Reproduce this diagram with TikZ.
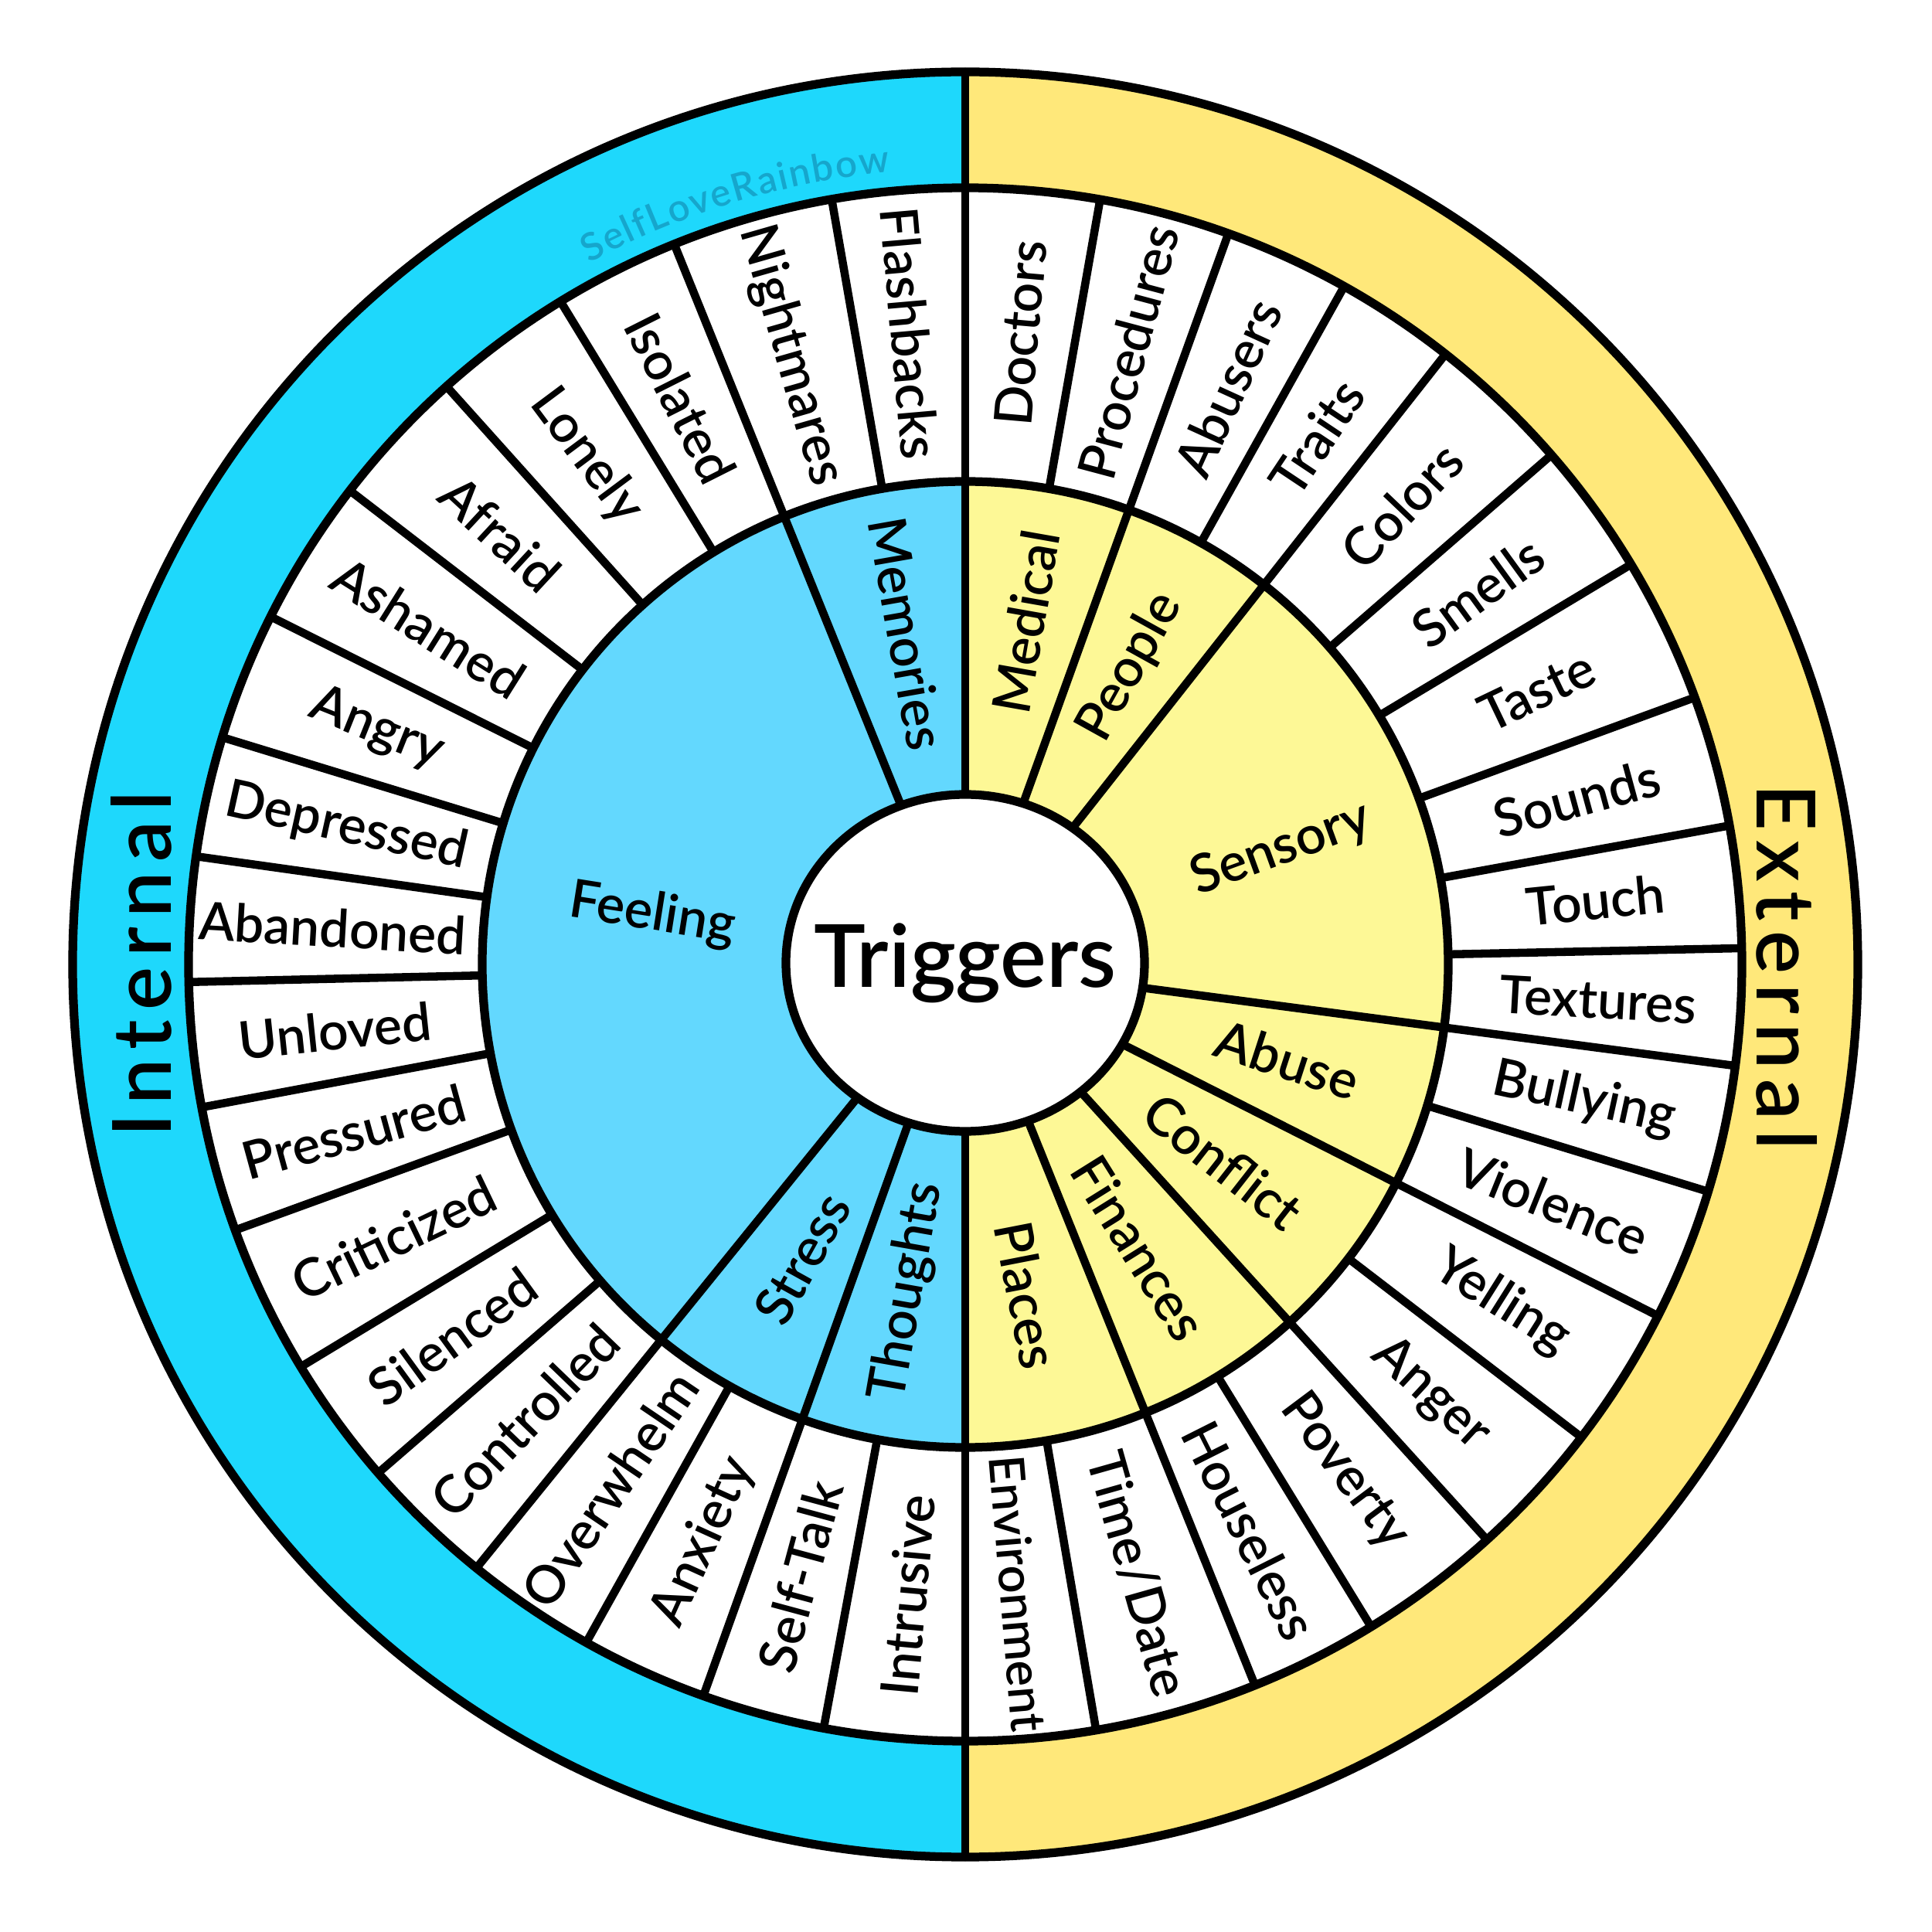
\documentclass[tikz,border=0pt]{standalone}
\usepackage{fontspec}
\setmainfont{Lato}[UprightFont=* Semibold]
\newfontfamily\sidefont{Lato}[UprightFont=* Semibold, LetterSpace=12]
\usetikzlibrary{decorations.text}

\definecolor{intblue}{HTML}{1ED8FC}
\definecolor{extyellow}{HTML}{FFE87A}
\definecolor{feelblue}{HTML}{63D8FE}
\definecolor{sensyellow}{HTML}{FDF896}
\definecolor{wmark}{HTML}{16A6CC}

\begin{document}
\begin{tikzpicture}[
    spoke/.style={line width=3pt, line cap=round},
    ring/.style={line width=3.2pt},
    item/.style={font=\fontsize{19.3}{21}\selectfont, inner sep=0pt},
    cat/.style={font=\fontsize{19.5}{21}\selectfont, inner sep=0pt},
    side/.style={font=\sidefont\fontsize{30}{32}\selectfont, inner sep=0pt},
    hub/.style={draw, fill=white, line width=3.2pt},
    hubtext/.style={font=\fontsize{32}{34}\selectfont, inner sep=0pt}]
  \useasboundingbox (-12.49,-12.52) rectangle (12.51,12.48);

  % Rings
  \fill[intblue] (90:11.55) arc (90:270:11.55) -- cycle;
  \fill[extyellow] (90:11.55) arc (90:-90:11.55) -- cycle;
  \fill[white] (0,0) circle (10.05);
  \fill[feelblue] (90:6.25) arc (90:270:6.25) -- cycle;
  \fill[sensyellow] (90:6.25) arc (90:-90:6.25) -- cycle;

  % Spokes between items
  \draw[spoke] (80:6.25) -- (80:10.05);
  \draw[spoke] (60.8:6.25) -- (60.8:10.05);
  \draw[spoke] (41:6.25) -- (41:10.05);
  \draw[spoke] (31:6.25) -- (31:10.05);
  \draw[spoke] (20.1:6.25) -- (20.1:10.05);
  \draw[spoke] (10.3:6.25) -- (10.3:10.05);
  \draw[spoke] (1.2:6.25) -- (1.2:10.05);
  \draw[spoke] (-17:6.25) -- (-17:10.05);
  \draw[spoke] (-37.5:6.25) -- (-37.5:10.05);
  \draw[spoke] (-58.5:6.25) -- (-58.5:10.05);
  \draw[spoke] (-80.3:6.25) -- (-80.3:10.05);
  \draw[spoke] (99.9:6.25) -- (99.9:10.05);
  \draw[spoke] (121.4:6.25) -- (121.4:10.05);
  \draw[spoke] (131.9:6.25) -- (131.9:10.05);
  \draw[spoke] (142.4:6.25) -- (142.4:10.05);
  \draw[spoke] (153.4:6.25) -- (153.4:10.05);
  \draw[spoke] (163:6.25) -- (163:10.05);
  \draw[spoke] (172:6.25) -- (172:10.05);
  \draw[spoke] (181.3:6.25) -- (181.3:10.05);
  \draw[spoke] (190.6:6.25) -- (190.6:10.05);
  \draw[spoke] (200:6.25) -- (200:10.05);
  \draw[spoke] (211.2:6.25) -- (211.2:10.05);
  \draw[spoke] (220.9:6.25) -- (220.9:10.05);
  \draw[spoke] (240.8:6.25) -- (240.8:10.05);
  \draw[spoke] (259.5:6.25) -- (259.5:10.05);

  % Spokes between groups
  \draw[spoke] (70.2:2) -- (70.2:10.05);
  \draw[spoke] (51.8:2) -- (51.8:10.05);
  \draw[spoke] (-7.5:2) -- (-7.5:10.05);
  \draw[spoke] (-26.9:2) -- (-26.9:10.05);
  \draw[spoke] (-47.8:2) -- (-47.8:10.05);
  \draw[spoke] (-68.1:2) -- (-68.1:10.05);
  \draw[spoke] (112:2) -- (112:10.05);
  \draw[spoke] (231:2) -- (231:10.05);
  \draw[spoke] (250.3:2) -- (250.3:10.05);
  \draw[spoke] (90:11.55) -- (270:11.55);

  % Outlines
  \draw[ring] (0,0) circle (11.55);
  \draw[ring] (0,0) circle (10.05);
  \draw[ring] (0,0) circle (6.25);

  % Centre
  \draw[hub] (0,0.02) ellipse [x radius=2.32, y radius=2.18];
  \node[hubtext] (triggers) at (0,0.02) {Triggers};

  % Sides
  \node[side, rotate=90] (internal) at (-10.66,0) {Internal};
  \node[side, rotate=-90] (external) at (10.63,-0.03) {External};
  \path[decorate, decoration={text along path, text align=fit to path,
      text={|\fontsize{14}{14}\selectfont\color{wmark}|SelfLoveRainbow}}]
    (118.2:10.3) arc (118.2:95.4:10.3);

  % Groups
  \node[cat, rotate=-80] (memories) at (100:4.35) {Memories};
  \node[cat, rotate=-9] (feeling) at (171:4.1) {Feeling};
  \node[cat, rotate=61] (stress) at (241:4.35) {Stress};
  \node[cat, rotate=80] (thoughts) at (260:4.3) {Thoughts};
  \node[cat, rotate=80] (medical) at (80:4.5) {Medical};
  \node[cat, rotate=61] (people) at (61:4.4) {People};
  \node[cat, rotate=20] (sensory) at (20:4.35) {Sensory};
  \node[cat, rotate=-18] (abuse) at (-16.5:4.35) {Abuse};
  \node[cat, rotate=-38] (conflict) at (-37.4:4.2) {Conflict};
  \node[cat, rotate=-58] (finances) at (-58.5:4.3) {Finances};
  \node[cat, rotate=-79] (places) at (-79.5:4.35) {Places};

  % External items
  \node[item, rotate=85] (doctors) at (85:8.2) {Doctors};
  \node[item, rotate=75.1] (procedures) at (75.1:8.2) {Procedures};
  \node[item, rotate=65.5] (abusers) at (65.5:8.2) {Abusers};
  \node[item, rotate=56.3] (traits) at (56.3:8.2) {Traits};
  \node[item, rotate=46.4] (colors) at (46.4:8.2) {Colors};
  \node[item, rotate=36] (smells) at (36:8.2) {Smells};
  \node[item, rotate=25.6] (taste) at (25.6:8.2) {Taste};
  \node[item, rotate=15.2] (sounds) at (15.2:8.2) {Sounds};
  \node[item, rotate=5.8] (touch) at (5.8:8.2) {Touch};
  \node[item, rotate=-3.2] (textures) at (-3.2:8.2) {Textures};
  \node[item, rotate=-12.3] (bullying) at (-12.3:8.2) {Bullying};
  \node[item, rotate=-22] (violence) at (-22:8.2) {Violence};
  \node[item, rotate=-32.2] (yelling) at (-32.2:8.2) {Yelling};
  \node[item, rotate=-42.7] (anger) at (-42.7:8.2) {Anger};
  \node[item, rotate=-53.2] (poverty) at (-53.2:8.2) {Poverty};
  \node[item, rotate=-63.3] (houseless) at (-63.3:8.2) {Houseless};
  \node[item, rotate=-74.2] (timedate) at (-74.2:8.2) {Time/Date};
  \node[item, rotate=-85.2, font=\fontsize{18}{20}\selectfont] (environment) at (-85.2:8.17) {Environment};

  % Internal items
  \node[item, rotate=-85] (flashbacks) at (95:8.2) {Flashbacks};
  \node[item, rotate=-74] (nightmares) at (106:8.2) {Nightmares};
  \node[item, rotate=-63.3] (isolated) at (116.7:8.2) {Isolated};
  \node[item, rotate=-53.3] (lonely) at (126.7:8.2) {Lonely};
  \node[item, rotate=-42.8] (afraid) at (137.2:8.2) {Afraid};
  \node[item, rotate=-32.1] (ashamed) at (147.9:8.2) {Ashamed};
  \node[item, rotate=-21.8] (angry) at (158.2:8.2) {Angry};
  \node[item, rotate=-12.5] (depressed) at (167.5:8.2) {Depressed};
  \node[item, rotate=-3.3] (abandoned) at (176.7:8.2) {Abandoned};
  \node[item, rotate=6] (unloved) at (186:8.2) {Unloved};
  \node[item, rotate=15.3] (pressured) at (195.3:8.2) {Pressured};
  \node[item, rotate=25.6] (criticized) at (205.6:8.2) {Criticized};
  \node[item, rotate=36] (silenced) at (216:8.2) {Silenced};
  \node[item, rotate=46] (controlled) at (226:8.2) {Controlled};
  \node[item, rotate=55.9] (overwhelm) at (235.9:8.2) {Overwhelm};
  \node[item, rotate=65.6] (anxiety) at (245.6:8.2) {Anxiety};
  \node[item, rotate=74.9] (selftalk) at (254.9:8.2) {Self-Talk};
  \node[item, rotate=84.8] (intrusive) at (264.8:8.2) {Intrusive};
\end{tikzpicture}
\end{document}
